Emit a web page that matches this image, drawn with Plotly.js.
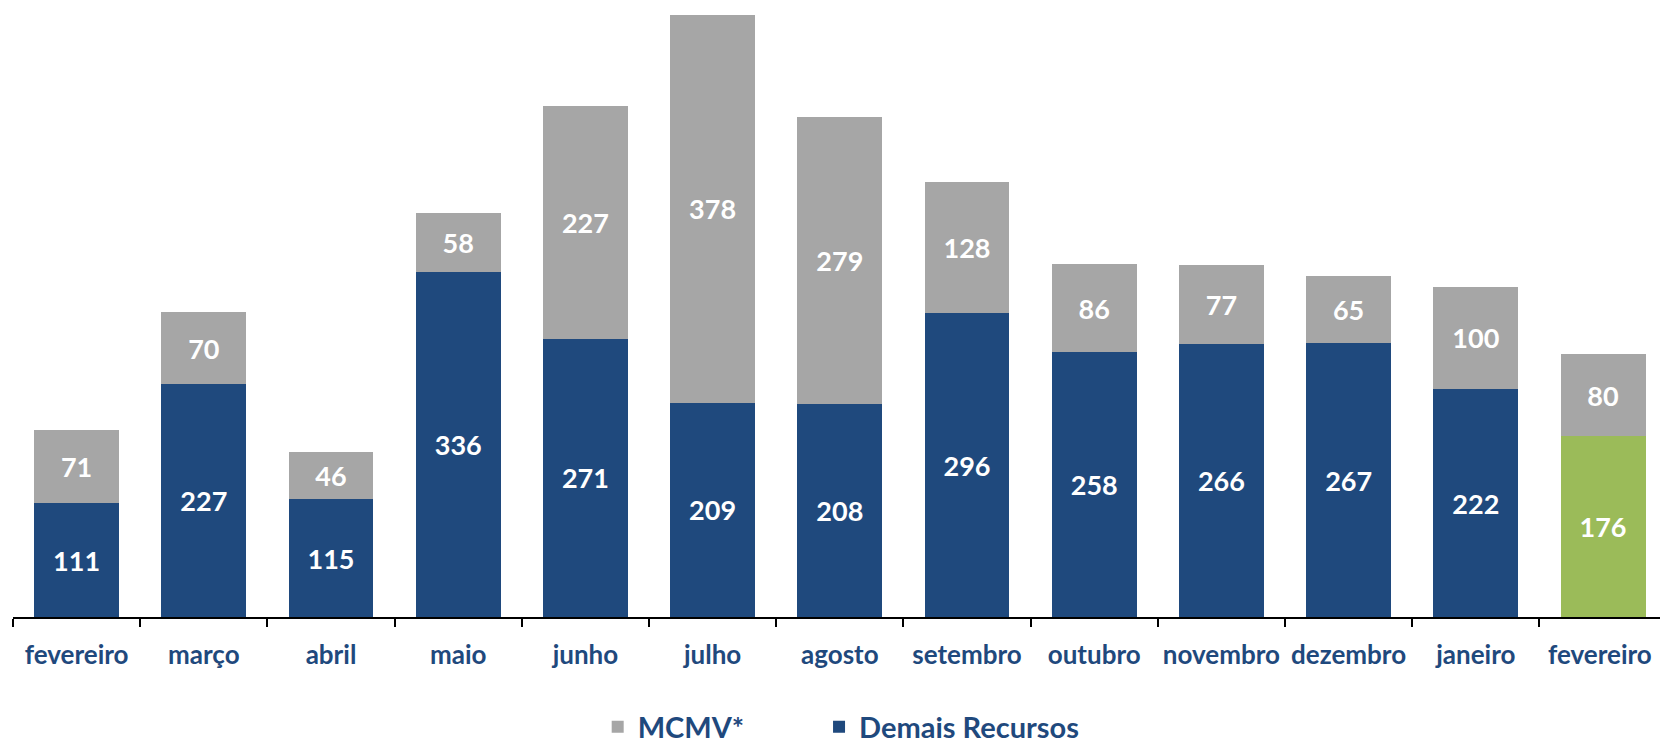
<!DOCTYPE html>
<html>
<head>
<meta charset="utf-8">
<script src="https://cdn.plot.ly/plotly-3.0.1.min.js"></script>
<style>html,body{margin:0;padding:0;background:#fff;}#chart{width:1660px;height:748px;}</style>
</head>
<body>
<div id="chart"></div>
<script>
const categories = ["fevereiro", "março", "abril", "maio", "junho", "julho", "agosto", "setembro", "outubro", "novembro", "dezembro", "janeiro", "fevereiro "];
const demaisRecursos = [111, 227, 115, 336, 271, 209, 208, 296, 258, 266, 267, 222, 176];
const mcmv = [71, 70, 46, 58, 227, 378, 279, 128, 86, 77, 65, 100, 80];

const BLUE = "#1F497D";
const GRAY = "#A6A6A6";
const GREEN = "#9BBB59";
const demaisColors = categories.map((c, i) => i === categories.length - 1 ? GREEN : BLUE);

const FONT = "Lato, 'Open Sans', sans-serif";
const labelFont = {family: FONT, size: 27, color: "#ffffff", weight: "bold"};
const legendFont = {family: FONT, size: 29, color: BLUE, weight: "bold"};

const traces = [
  {
    type: "bar", name: "Demais Recursos", x: categories, y: demaisRecursos,
    legend: "legend2",
    marker: {color: demaisColors},
    text: demaisRecursos.map(String), textposition: "inside", insidetextanchor: "middle",
    textangle: 0, constraintext: "none", textfont: labelFont, hoverinfo: "skip"
  },
  {
    type: "bar", name: "MCMV*", x: categories, y: mcmv,
    legend: "legend",
    marker: {color: GRAY},
    text: mcmv.map(String), textposition: "inside", insidetextanchor: "middle",
    textangle: 0, constraintext: "none", textfont: labelFont, hoverinfo: "skip"
  }
];

const layout = {
  width: 1660, height: 748,
  margin: {l: 13, r: 0, t: 0, b: 131, autoexpand: false},
  barmode: "stack", bargap: 0.332,
  paper_bgcolor: "#ffffff", plot_bgcolor: "#ffffff",
  showlegend: true,
  legend: {
    orientation: "h", x: 0.355, xanchor: "left", y: -0.178, yanchor: "middle",
    bgcolor: "rgba(0,0,0,0)", font: legendFont
  },
  legend2: {
    orientation: "h", x: 0.4894, xanchor: "left", y: -0.178, yanchor: "middle",
    bgcolor: "rgba(0,0,0,0)", font: legendFont
  },
  xaxis: {
    type: "category", range: [-0.5, 12.448], automargin: false, tickangle: 0,
    showline: true, linecolor: "#000000", linewidth: 2,
    ticks: "outside", tickson: "boundaries", ticklen: 8, tickwidth: 2, tickcolor: "#000000",
    ticklabelstandoff: 14,
    tickfont: {family: FONT, size: 26, color: BLUE, weight: "bold"},
    showgrid: false, zeroline: false, fixedrange: true
  },
  yaxis: {
    range: [0, 601.4], visible: false, showgrid: false, zeroline: false, fixedrange: true, automargin: false
  }
};

Plotly.newPlot("chart", traces, layout, {displayModeBar: false, staticPlot: true});
</script>
</body>
</html>
